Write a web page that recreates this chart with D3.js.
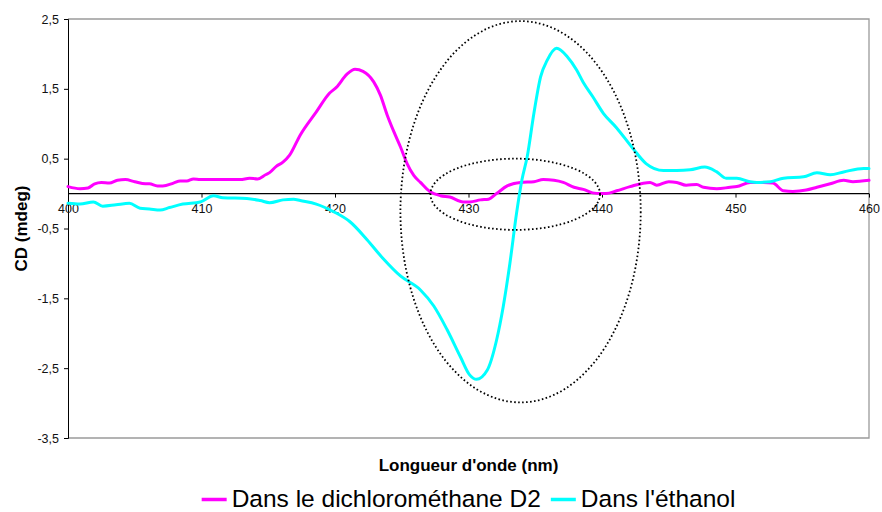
<!DOCTYPE html>
<html>
<head>
<meta charset="utf-8">
<script src="https://cdn.jsdelivr.net/npm/d3@7"></script>
<style>
  html, body { margin: 0; padding: 0; background: #fff; }
  svg { display: block; font-family: Arial, "Liberation Sans", sans-serif; }
</style>
</head>
<body>
<svg id="chart" width="882" height="512"></svg>
<script>
// ---- Data ----
const seriesNames = ["Dans le dichlorométhane D2", "Dans l'éthanol"];
const seriesColors = ["#ff00ff", "#00ffff"];

const dcmWavelength = [400.0,400.9,401.5,402.0,402.5,403.1,403.7,404.3,405.0,405.8,406.1,406.7,407.1,407.9,408.4,408.9,409.4,409.9,411.4,412.9,413.6,414.2,414.8,415.1,415.6,416.1,416.6,417.4,418.6,419.6,420.1,420.9,421.5,422.1,422.9,423.4,423.9,424.4,424.9,425.4,425.9,426.4,427.1,427.9,428.6,429.6,430.1,430.9,431.5,432.1,432.9,433.9,434.9,435.6,436.4,437.1,437.9,438.6,439.3,439.9,440.3,441.1,442.1,443.6,444.1,445.0,445.6,446.3,447.1,447.6,448.6,449.6,450.1,451.1,452.1,452.8,453.6,454.3,455.3,456.1,457.1,458.1,458.8,460.0];
const dcmCD = [0.10,0.07,0.08,0.14,0.16,0.15,0.19,0.20,0.17,0.14,0.14,0.11,0.11,0.15,0.18,0.18,0.21,0.20,0.20,0.20,0.22,0.21,0.27,0.30,0.39,0.45,0.55,0.84,1.17,1.44,1.52,1.71,1.78,1.75,1.60,1.41,1.13,0.89,0.67,0.43,0.26,0.16,0.03,-0.03,-0.05,-0.12,-0.12,-0.09,-0.08,0.00,0.11,0.16,0.17,0.20,0.19,0.16,0.09,0.06,0.01,0.00,0.00,0.04,0.10,0.16,0.12,0.17,0.16,0.12,0.13,0.09,0.07,0.09,0.10,0.16,0.16,0.15,0.04,0.03,0.05,0.09,0.14,0.19,0.17,0.19];

const ethWavelength = [400.0,400.9,401.9,402.6,403.6,404.6,405.4,406.1,406.9,407.6,408.6,409.9,410.9,411.6,413.4,414.4,415.1,416.1,416.9,417.4,418.6,419.9,421.1,422.4,423.6,424.9,426.4,427.4,428.4,429.4,430.1,430.6,431.4,432.1,432.6,433.1,433.6,434.0,434.4,434.9,435.4,435.9,436.6,437.4,438.1,438.6,439.3,440.1,441.1,442.3,443.3,444.6,445.6,446.6,447.7,448.6,449.3,450.1,451.1,451.6,452.6,453.6,455.1,456.1,457.1,458.1,459.6,460.0];
const ethCD = [-0.14,-0.15,-0.12,-0.18,-0.16,-0.14,-0.21,-0.22,-0.235,-0.20,-0.15,-0.12,-0.03,-0.06,-0.07,-0.10,-0.13,-0.09,-0.08,-0.10,-0.15,-0.26,-0.40,-0.66,-0.93,-1.18,-1.38,-1.61,-1.95,-2.34,-2.60,-2.66,-2.53,-2.10,-1.62,-1.00,-0.28,0.195,0.53,1.15,1.67,1.91,2.08,1.96,1.77,1.59,1.39,1.15,0.94,0.65,0.43,0.33,0.33,0.34,0.38,0.31,0.22,0.22,0.17,0.16,0.17,0.22,0.24,0.30,0.27,0.31,0.36,0.36];

const xTicks = [400, 410, 420, 430, 440, 450, 460];
const yTicks = [2.5, 1.5, 0.5, -0.5, -1.5, -2.5, -3.5];

// annotation ellipses (data units: centre nm, centre CD, radius nm, radius CD)
const ellipseCx = [433.9, 433.5];
const ellipseCy = [-0.26, -0.01];
const ellipseRx = [9.0, 6.35];
const ellipseRy = [2.73, 0.51];

// ---- Layout ----
const svg = d3.select("#chart");
const pLeft = 68, pRight = 869, pTop = 19, pBottom = 438;

const x = d3.scaleLinear().domain([400, 460]).range([pLeft, pRight]);
const y = d3.scaleLinear().domain([-3.5, 2.5]).range([pBottom, pTop]);
const fmt = d => d3.format(".1f")(d).replace(".", ",").replace("−", "-");

// plot frame (gray top/right/bottom)
svg.append("path")
  .attr("d", `M${pLeft},${pTop}H${pRight}V${pBottom}H${pLeft}`)
  .attr("fill", "none").attr("stroke", "#9a9a9a").attr("stroke-width", 1.3);

// Y axis
const yAxis = d3.axisLeft(y).tickValues(yTicks).tickSize(4).tickPadding(5).tickFormat(fmt);
const gy = svg.append("g").attr("transform", `translate(${pLeft},0)`).call(yAxis);
gy.select(".domain").attr("stroke", "#000");
gy.selectAll(".tick line").attr("stroke", "#000");
gy.selectAll(".tick text").attr("font-size", "12.5px").attr("fill", "#111")
  .attr("font-family", "Arial, 'Liberation Sans', sans-serif");

// X axis on zero line
const xAxis = d3.axisBottom(x).tickValues(xTicks).tickSize(4).tickPadding(7).tickFormat(d3.format("d"));
const gx = svg.append("g").attr("transform", `translate(0,${y(0)})`).call(xAxis);
gx.select(".domain").attr("stroke", "#000").attr("stroke-width", 1.3)
  .attr("d", `M${pLeft},0H${pRight}`);
gx.selectAll(".tick line").attr("stroke", "#000");
gx.selectAll(".tick text").attr("font-size", "12.5px").attr("fill", "#111")
  .attr("font-family", "Arial, 'Liberation Sans', sans-serif");

// Lines
const series = [
  dcmWavelength.map((w, i) => ({ w, v: dcmCD[i] })),
  ethWavelength.map((w, i) => ({ w, v: ethCD[i] }))
];
const line = d3.line().x(d => x(d.w)).y(d => y(d.v)).curve(d3.curveMonotoneX);
series.forEach((s, i) => {
  svg.append("path").datum(s)
    .attr("d", line)
    .attr("fill", "none")
    .attr("stroke", seriesColors[i])
    .attr("stroke-width", 3)
    .attr("stroke-linejoin", "round")
    .attr("stroke-linecap", "round");
});

// Dotted ellipses
ellipseCx.forEach((cx, i) => {
  svg.append("ellipse")
    .attr("cx", x(cx)).attr("cy", y(ellipseCy[i]))
    .attr("rx", x(400 + ellipseRx[i]) - x(400))
    .attr("ry", y(0) - y(ellipseRy[i]))
    .attr("fill", "none").attr("stroke", "#000")
    .attr("stroke-width", 1.8).attr("stroke-dasharray", "1.6,2.4");
});

// Axis titles
svg.append("text")
  .attr("x", (pLeft + pRight) / 2).attr("y", 470.5)
  .attr("text-anchor", "middle").attr("font-weight", "bold").attr("font-size", "17px")
  .text("Longueur d'onde (nm)");
svg.append("text")
  .attr("transform", `translate(26.5,${(pTop + pBottom) / 2}) rotate(-90)`)
  .attr("text-anchor", "middle").attr("font-weight", "bold").attr("font-size", "17px")
  .text("CD (mdeg)");

// Legend
const lg = svg.append("g");
const items = seriesNames.map((name, i) => {
  const g = lg.append("g");
  g.append("line").attr("x1", 0).attr("x2", 25).attr("y1", 499.5).attr("y2", 499.5)
    .attr("stroke", seriesColors[i]).attr("stroke-width", 3.5);
  const t = g.append("text").attr("x", 30).attr("y", 507)
    .attr("font-size", "24.5px").attr("fill", "#000").text(name);
  return { g, w: 30 + t.node().getComputedTextLength() };
});
const gap = 10;
const total = d3.sum(items, d => d.w) + gap * (items.length - 1);
let cur = (pLeft + pRight) / 2 - total / 2;
items.forEach(it => { it.g.attr("transform", `translate(${cur},0)`); cur += it.w + gap; });
</script>
</body>
</html>
